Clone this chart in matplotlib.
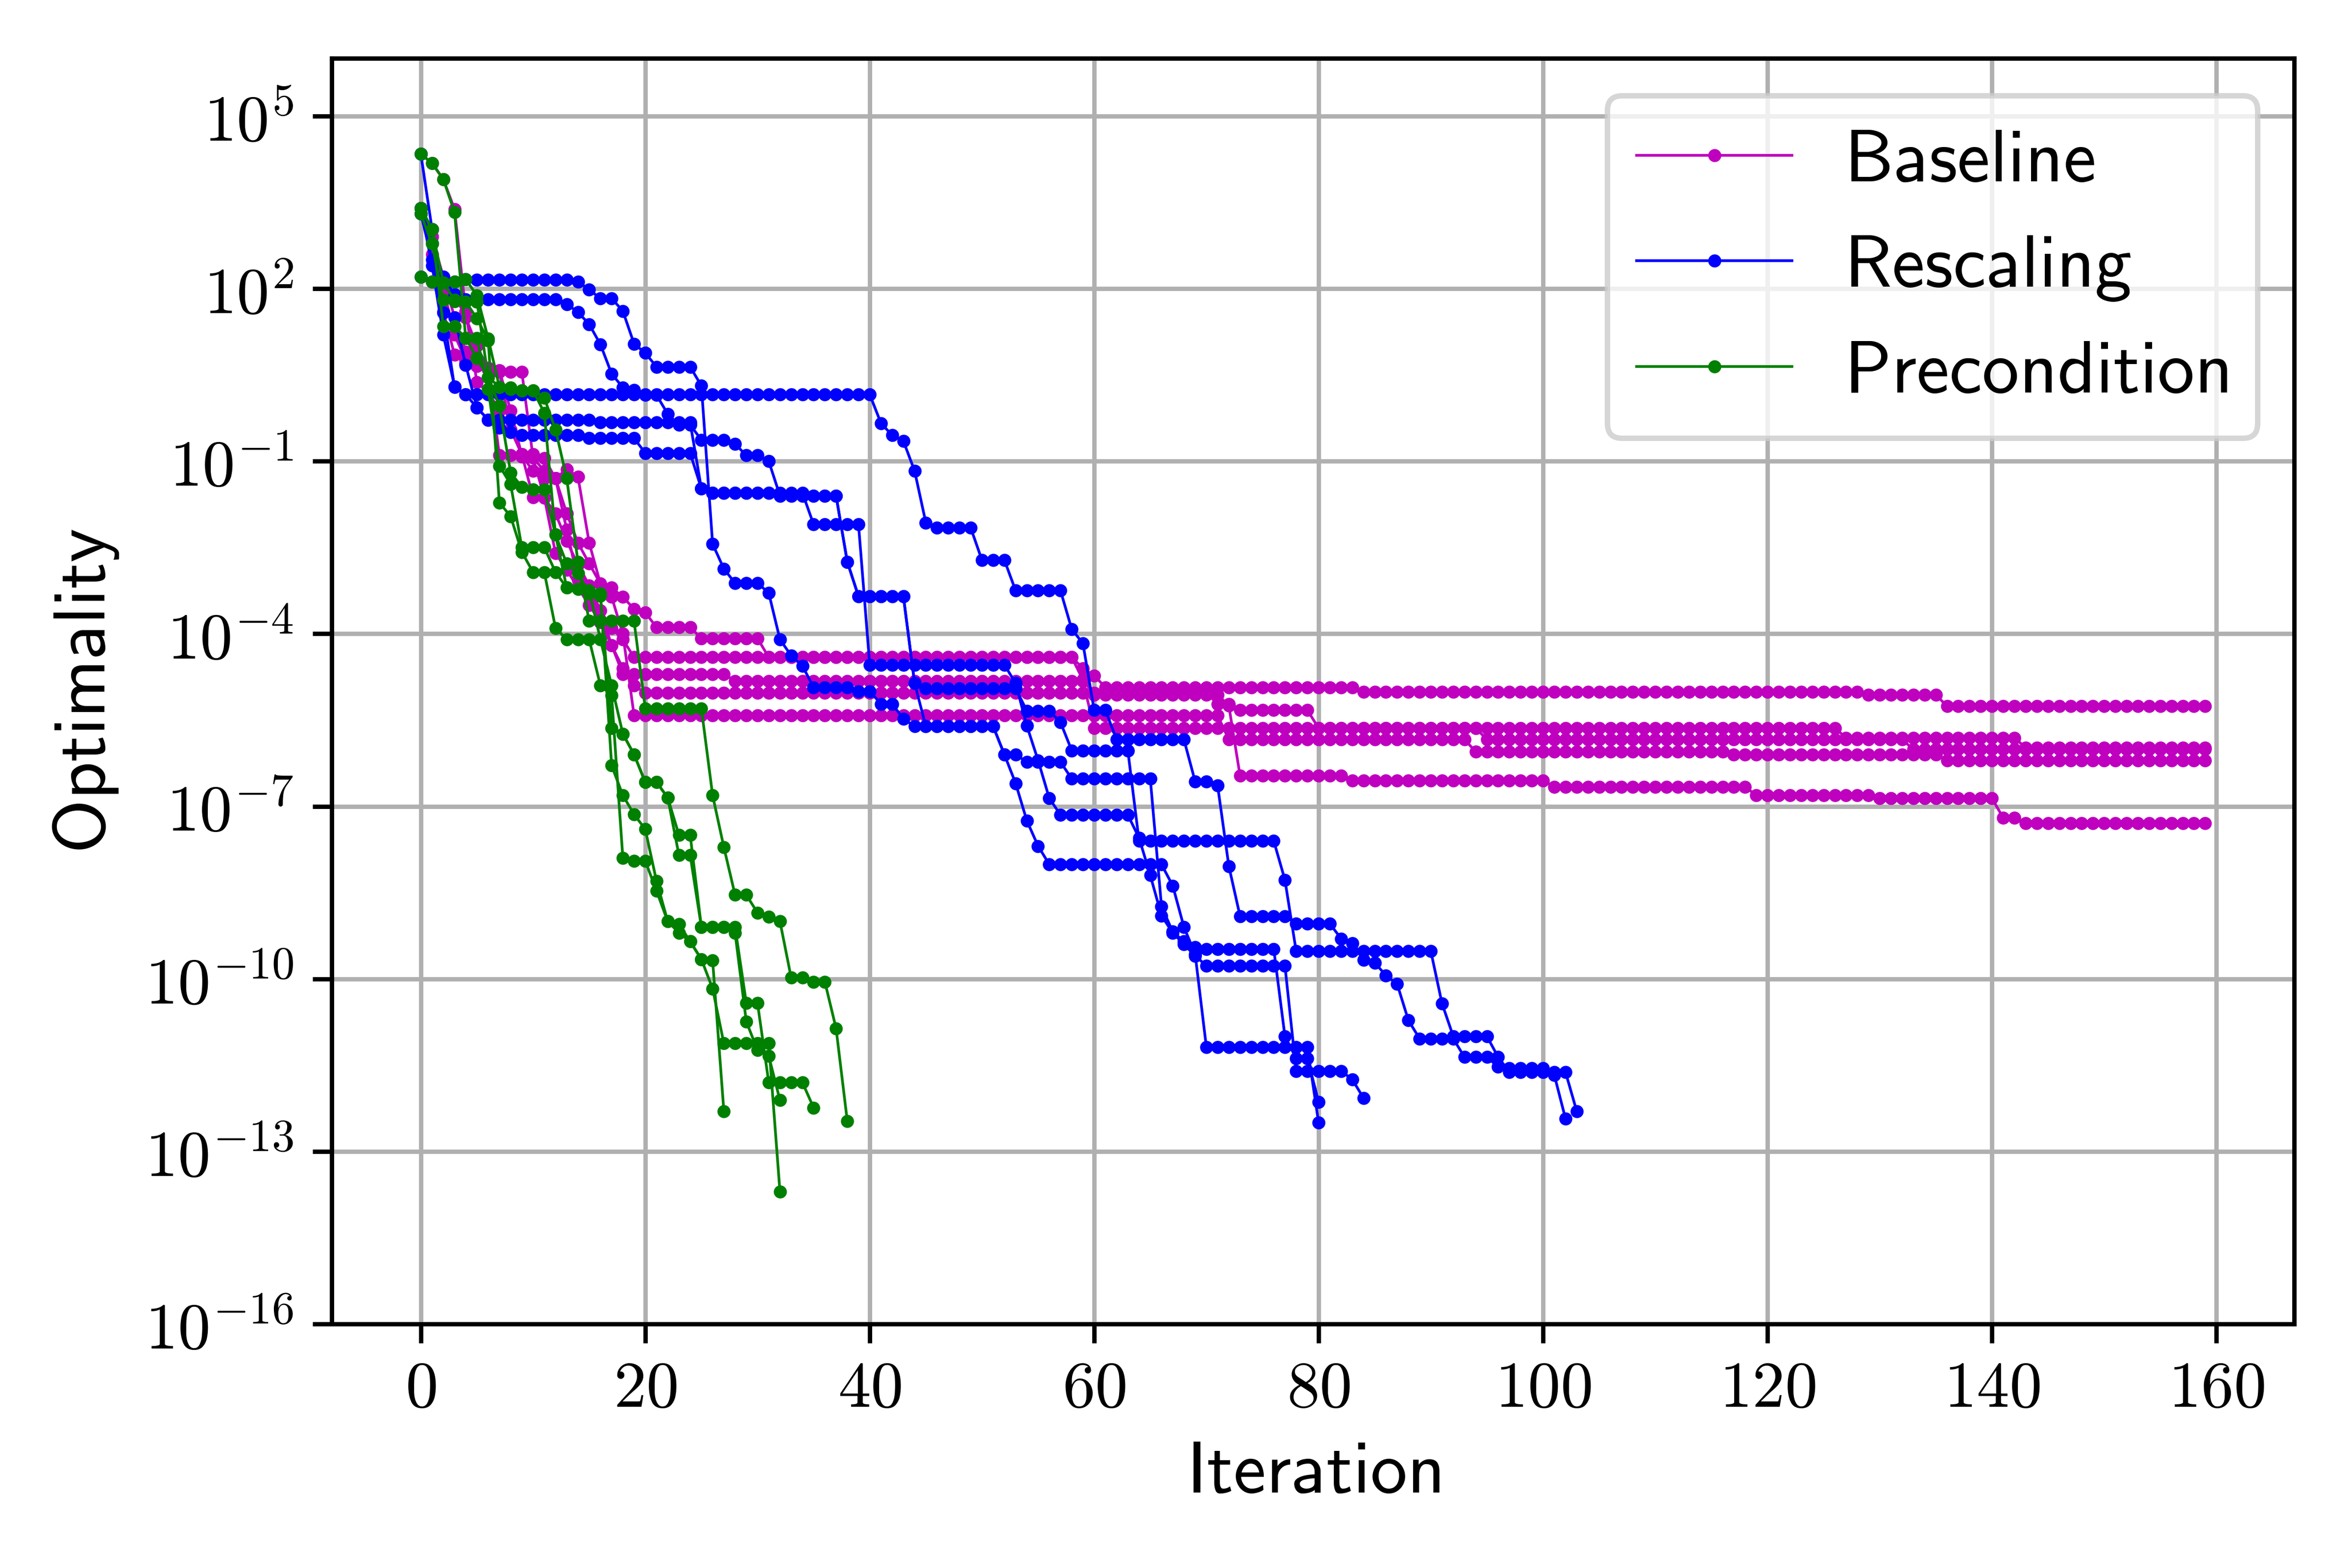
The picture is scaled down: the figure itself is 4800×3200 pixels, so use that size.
import numpy as np
import matplotlib
matplotlib.use('Agg')
import matplotlib.pyplot as plt
from matplotlib.ticker import FuncFormatter, NullLocator

plt.rcParams['mathtext.fontset'] = 'cm'

# every run is a list of (log10 optimality, number of iterations at that value)
baseline_runs = [
    [(3.30, 1), (2.60, 1), (1.60, 1), (0.85, 1), (0.70, 1), (0.65, 1), (0.62, 1), (0.58, 1), (0.55, 2),
     (-0.94, 1), (-1.17, 1), (-1.30, 1), (-2.19, 1), (-3.07, 1), (-3.30, 1), (-3.60, 1), (-3.90, 1), (-4.10, 1),
     (-4.41, 40), (-4.60, 1), (-4.73, 1), (-4.93, 23), (-5.01, 45), (-5.06, 7), (-5.26, 24)],
    [(3.40, 1), (3.03, 1), (2.00, 1), (1.20, 1), (0.75, 1), (0.65, 1), (0.60, 1),
     (-0.90, 2), (-0.92, 1), (-0.94, 1), (-1.63, 1), (-2.60, 1), (-2.89, 1), (-3.20, 1), (-3.50, 1), (-3.80, 1),
     (-4.20, 1), (-4.60, 1), (-4.90, 1), (-5.03, 51), (-5.22, 2), (-5.33, 7), (-5.64, 47), (-5.81, 16), (-5.98, 17)],
    [(2.20, 1), (2.12, 1), (2.10, 1), (1.90, 1), (1.50, 1), (1.00, 1), (0.60, 1), (0.55, 1),
     (-0.45, 1), (-0.88, 1), (-1.63, 1), (-1.64, 1), (-1.91, 1), (-2.39, 1), (-2.80, 1), (-3.16, 1), (-3.60, 1),
     (-4.20, 1), (-4.70, 10), (-4.82, 32), (-5.64, 35), (-5.84, 38), (-6.01, 27)],
    [(3.40, 1), (2.90, 1), (2.20, 1), (1.50, 1), (0.90, 1), (0.70, 1), (0.62, 1), (0.58, 1),
     (-0.12, 1), (-0.90, 1), (-1.17, 1), (-1.30, 2), (-1.91, 1), (-2.42, 1), (-2.78, 1), (-3.13, 1), (-3.36, 1),
     (-4.00, 1), (-5.42, 53), (-5.84, 22), (-6.05, 23), (-6.10, 19), (-6.20, 24)],
    [(4.34, 1), (4.18, 1), (3.90, 1), (3.38, 1), (1.60, 1), (0.37, 1), (0.20, 1), (-0.12, 1), (-0.45, 1),
     (-0.88, 2), (-0.95, 1), (-1.30, 1), (-1.14, 1), (-1.27, 1), (-2.42, 1), (-3.13, 1), (-3.20, 1), (-3.36, 1),
     (-3.57, 1), (-3.63, 1), (-3.89, 4), (-4.08, 6), (-4.41, 28), (-4.80, 1), (-5.06, 12), (-5.25, 1),
     (-6.47, 10), (-6.55, 18), (-6.66, 18), (-6.81, 11), (-6.86, 11), (-7.20, 2), (-7.29, 17)],
]

rescaling_runs = [
    [(2.20, 1), (2.12, 1), (2.10, 1), (2.12, 1), (2.16, 1), (2.15, 9), (2.12, 1), (1.98, 1), (1.83, 2),
     (1.61, 1), (1.04, 1), (0.88, 1), (0.64, 4), (0.31, 1), (-2.44, 1), (-2.87, 1), (-3.12, 3), (-3.29, 1),
     (-4.10, 1), (-4.38, 1), (-4.56, 1), (-4.93, 4), (-5.00, 2), (-5.22, 2), (-5.48, 1), (-5.61, 8),
     (-6.10, 2), (-6.23, 4), (-6.52, 8), (-8.74, 1), (-9.18, 1), (-9.35, 1), (-9.45, 1), (-9.48, 7),
     (-11.00, 1), (-11.38, 2), (-12.14, 1)],
    [(3.30, 1), (2.50, 1), (1.58, 1), (0.29, 1), (0.16, 37), (-0.34, 1), (-0.55, 1), (-0.65, 1), (-1.17, 1),
     (-2.07, 1), (-2.16, 4), (-2.72, 3), (-3.25, 5), (-3.92, 1), (-4.17, 1), (-5.33, 2), (-5.84, 7),
     (-6.57, 2), (-6.64, 1), (-8.04, 1), (-8.91, 5), (-9.04, 4), (-9.30, 1), (-9.38, 1), (-9.67, 1),
     (-9.72, 1), (-9.94, 1), (-10.09, 1), (-10.72, 1), (-11.04, 4), (-11.36, 3), (-11.53, 1), (-11.55, 4),
     (-11.67, 1), (-12.43, 1)],
    [(3.40, 1), (2.78, 1), (2.20, 1), (1.90, 1), (1.81, 9), (1.73, 1), (1.59, 1), (1.38, 1), (1.03, 1),
     (0.52, 1), (0.28, 1), (0.24, 1), (0.15, 2), (-0.18, 1), (-0.37, 2), (-0.63, 3), (-0.70, 1), (-0.90, 2),
     (-1.00, 1), (-1.60, 6), (-2.75, 1), (-3.35, 5), (-4.86, 1), (-4.95, 9), (-5.34, 3), (-5.54, 1),
     (-6.03, 6), (-7.60, 13), (-8.28, 1), (-9.52, 13), (-10.43, 1), (-11.00, 4), (-11.36, 1), (-11.62, 6),
     (-12.30, 1)],
    [(4.34, 1), (3.03, 1), (1.58, 1), (1.50, 1), (0.67, 1), (-0.07, 1), (-0.28, 10), (-0.33, 9), (-1.48, 1),
     (-1.55, 9), (-2.10, 5), (-4.54, 13), (-4.86, 1), (-5.60, 1), (-6.20, 1), (-6.86, 1), (-7.15, 7),
     (-7.55, 1), (-8.20, 1), (-8.90, 1), (-9.20, 1), (-9.40, 1), (-9.60, 1), (-9.77, 8), (-11.60, 5),
     (-11.75, 1), (-12.07, 1)],
    [(3.40, 1), (2.40, 1), (1.20, 1), (0.30, 1), (0.16, 1), (-0.07, 1), (-0.28, 1), (-0.42, 1), (-0.50, 1),
     (-0.55, 6), (-0.60, 5), (-0.86, 5), (-1.48, 1), (-1.55, 6), (-1.60, 6), (-2.75, 1), (-3.35, 5),
     (-4.86, 1), (-5.61, 7), (-6.10, 1), (-6.60, 1), (-7.25, 1), (-7.69, 1), (-8.01, 11), (-8.38, 1),
     (-9.10, 1), (-9.57, 1), (-11.19, 10), (-12.50, 1)],
]

precondition_runs = [
    [(2.20, 1), (2.12, 1), (2.10, 1), (2.12, 1), (2.16, 1), (1.88, 1), (1.13, 1), (0.29, 1), (0.25, 1),
     (0.23, 2), (0.10, 1), (-0.45, 1), (-1.30, 1), (-2.75, 1), (-3.78, 5), (-5.30, 6), (-6.81, 1), (-7.71, 1),
     (-8.54, 2), (-8.85, 1), (-8.92, 1), (-9.00, 1), (-9.98, 2), (-10.05, 2), (-10.86, 1), (-12.47, 1)],
    [(4.34, 1), (4.18, 1), (3.90, 1), (3.33, 1), (1.14, 1), (0.79, 1), (0.46, 1), (-0.04, 1), (-1.20, 1),
     (-1.45, 1), (-1.49, 2), (-2.28, 1), (-2.78, 1), (-2.95, 1), (-3.30, 1), (-3.34, 1), (-5.64, 1),
     (-5.74, 1), (-6.10, 1), (-6.58, 2), (-6.85, 1), (-7.85, 2), (-9.10, 4), (-10.42, 2), (-11.80, 4),
     (-12.24, 1)],
    [(3.40, 1), (3.03, 1), (1.34, 2), (1.14, 2), (0.25, 1), (-1.08, 1), (-1.40, 1), (-2.50, 3), (-2.93, 1),
     (-3.20, 1), (-3.22, 1), (-3.28, 1), (-3.30, 1), (-6.29, 1), (-6.81, 1), (-7.14, 1), (-7.40, 1),
     (-8.30, 1), (-9.00, 1), (-9.05, 1), (-9.35, 1), (-9.66, 1), (-9.68, 1), (-12.30, 1)],
    [(3.30, 1), (2.78, 1), (1.80, 1), (1.78, 1), (1.77, 1), (1.48, 1), (1.10, 1), (-1.72, 1), (-1.96, 1),
     (-2.58, 1), (-2.93, 2), (-3.90, 1), (-4.10, 3), (-4.90, 1), (-5.07, 1), (-7.90, 1), (-7.95, 2),
     (-8.47, 1), (-9.00, 1), (-9.20, 1), (-9.35, 1), (-9.66, 1), (-10.17, 1), (-11.12, 5), (-13.70, 1)],
    [(3.40, 1), (3.03, 1), (2.10, 1), (1.80, 1), (1.77, 2), (0.46, 1), (0.29, 1), (0.28, 1), (0.23, 2),
     (-0.16, 1), (-2.28, 1), (-3.20, 1), (-3.22, 1), (-3.25, 1), (-4.10, 1), (-4.90, 1), (-5.74, 1),
     (-6.10, 1), (-6.58, 2), (-6.85, 1), (-7.50, 2), (-9.10, 3), (-9.20, 1), (-10.74, 1), (-11.24, 1),
     (-11.34, 1), (-12.11, 1)],
]

methods = ['Baseline', 'Rescaling', 'Precondition']
colors = ['m', 'b', 'g']
y_ticks = [1e5, 1e2, 1e-1, 1e-4, 1e-7, 1e-10, 1e-13, 1e-16]


def expand(steps):
    vals = []
    for v, n in steps:
        vals += [10.0 ** v] * n
    return np.array(vals)


fig = plt.figure(figsize=(6, 4), dpi=800)
ax = fig.add_axes([0.141, 0.1556, 0.8345, 0.8071])

for runs, c, name in zip([baseline_runs, rescaling_runs, precondition_runs], colors, methods):
    for i, steps in enumerate(runs):
        y = expand(steps)
        ax.plot(np.arange(len(y)), y, color=c, marker='o', markersize=1.8, markeredgewidth=0.6,
                linewidth=0.5, label=r'$\mathsf{%s}$' % name if i == 0 else None)

ax.set_yscale('log')
ax.set_ylim(1e-16, 1e6)
ax.set_yticks(y_ticks)
ax.yaxis.set_minor_locator(NullLocator())
ax.yaxis.set_major_formatter(FuncFormatter(lambda v, p: r'$10^{%d}$' % round(np.log10(v))))
ax.xaxis.set_major_formatter(FuncFormatter(lambda v, p: r'$%d$' % round(v)))
ax.tick_params(labelsize=12)
ax.tick_params(axis='x', pad=2.5)
ax.grid(True)

ax.set_xlabel(r'$\mathsf{Iteration}$', fontsize=13.5, labelpad=3)
ax.set_ylabel(r'$\mathsf{Optimality}$', fontsize=13.5, labelpad=4.5)
ax.legend(loc='upper right', fontsize=13.6, handletextpad=0.7, handlelength=2.1, labelspacing=0.45)

fig.savefig('out.png', dpi=800)
